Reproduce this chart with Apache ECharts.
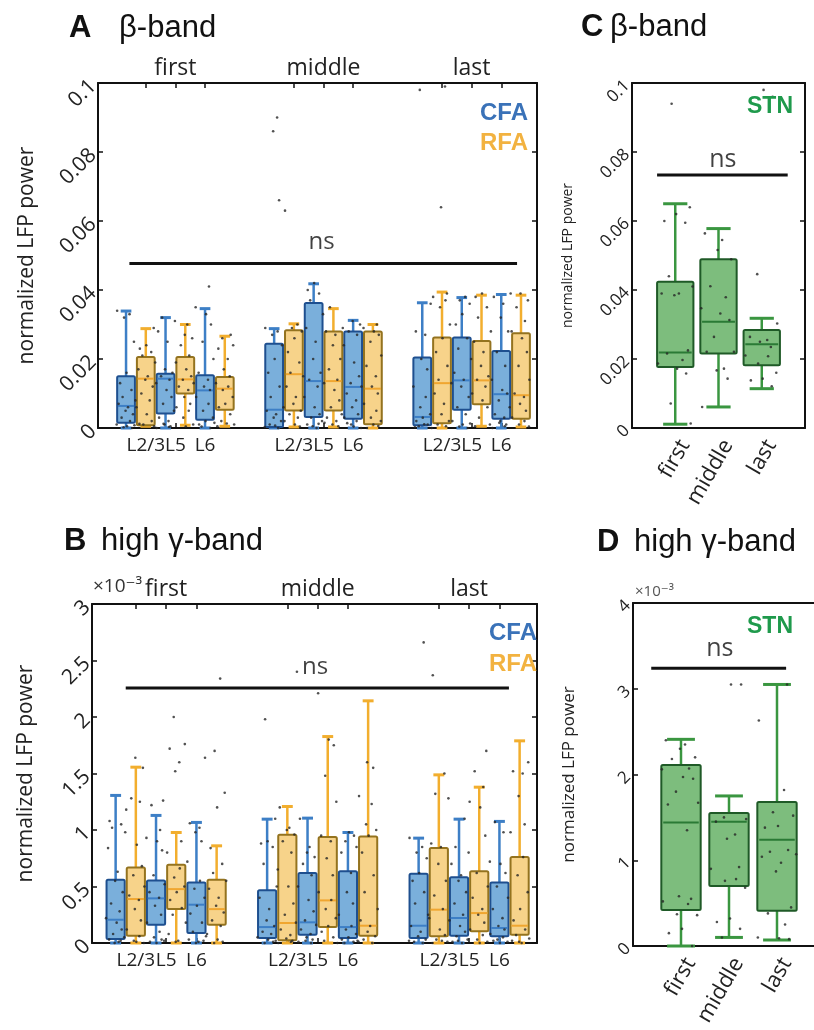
<!DOCTYPE html>
<html><head><meta charset="utf-8">
<script src="https://cdn.jsdelivr.net/npm/echarts@6/dist/echarts.min.js"></script>
<style>html,body{margin:0;padding:0;background:#fff}#c{width:814px;height:1030px}</style>
</head><body><div id="c"></div><script>
// ---------------- DATA ----------------
const GROUPS = ['first', 'middle', 'last'];
const LAYERS = ['L2/3', 'L5', 'L6'];
const EPOCHS = ['first', 'middle', 'last'];
const AREAS = ['CFA', 'RFA'];

// box stats [lowWhisker, Q1, median, Q3, highWhisker]; order: first(L2/3,L5,L6), middle(...), last(...)
const A_CFA_STATS = [
  [0, 0.0015, 0.0064, 0.0150, 0.0339],
  [0, 0.0042, 0.0143, 0.0157, 0.0320],
  [0, 0.0024, 0.0109, 0.0153, 0.0346],
  [0, 0.0003, 0.0053, 0.0244, 0.0288],
  [0, 0.0032, 0.0136, 0.0362, 0.0418],
  [0, 0.0027, 0.0119, 0.0280, 0.0312],
  [0, 0.0008, 0.0032, 0.0204, 0.0363],
  [0, 0.0053, 0.0138, 0.0262, 0.0378],
  [0, 0.0027, 0.0098, 0.0223, 0.0387]
];
const A_RFA_STATS = [
  [0.0005, 0.0008, 0.0143, 0.0206, 0.0288],
  [0.0008, 0.0100, 0.0141, 0.0206, 0.0300],
  [0.0005, 0.0053, 0.0114, 0.0148, 0.0266],
  [0.0003, 0.0051, 0.0156, 0.0283, 0.0302],
  [0.0003, 0.0051, 0.0136, 0.0280, 0.0346],
  [0, 0.0011, 0.0114, 0.0280, 0.0300],
  [0, 0.0014, 0.0130, 0.0262, 0.0394],
  [0.0005, 0.0069, 0.0138, 0.0252, 0.0385],
  [0.0003, 0.0027, 0.0095, 0.0275, 0.0385]
];
const A_CFA_PTS = [
  [0.034,0.033,0.032,0.025,0.016,0.013,0.011,0.009,0.008,0.007,0.006,0.005,0.004,0.003,0.002,0.001,0.0005,0,0.0002,0.0008],
  [0.032,0.031,0.028,0.025,0.017,0.016,0.015,0.014,0.013,0.011,0.009,0.007,0.005,0.003,0.002,0.001,0.0005,0,0.0003,0.0012],
  [0.041,0.035,0.033,0.030,0.025,0.020,0.016,0.014,0.012,0.011,0.009,0.007,0.005,0.003,0.002,0.001,0,0.0004,0.0015],
  [0.090,0.086,0.066,0.029,0.028,0.027,0.024,0.020,0.016,0.012,0.009,0.006,0.005,0.004,0.003,0.002,0.001,0,0.0003,0.0007],
  [0.042,0.040,0.039,0.037,0.033,0.029,0.025,0.020,0.016,0.014,0.012,0.009,0.006,0.004,0.003,0.002,0.001,0,0.0005,0.0012],
  [0.031,0.030,0.028,0.027,0.024,0.019,0.015,0.013,0.012,0.010,0.008,0.006,0.004,0.003,0.002,0.001,0,0.0004,0.0014],
  [0.098,0.036,0.028,0.027,0.020,0.017,0.012,0.009,0.006,0.004,0.003,0.002,0.001,0.0005,0,0.0002,0.0011],
  [0.038,0.037,0.036,0.033,0.030,0.026,0.023,0.020,0.016,0.014,0.012,0.009,0.006,0.004,0.002,0.001,0,0.0004,0.0013],
  [0.039,0.038,0.036,0.032,0.028,0.022,0.018,0.014,0.011,0.010,0.008,0.006,0.004,0.003,0.002,0.001,0,0.0005,0.0015]
];
const A_RFA_PTS = [
  [0.029,0.024,0.023,0.022,0.021,0.019,0.017,0.015,0.014,0.012,0.010,0.008,0.006,0.004,0.002,0.001,0.0005,0.0012],
  [0.030,0.027,0.026,0.024,0.021,0.019,0.017,0.015,0.014,0.013,0.012,0.011,0.009,0.007,0.006,0.005,0.003,0.001,0.0004],
  [0.027,0.026,0.024,0.023,0.020,0.017,0.015,0.013,0.012,0.011,0.009,0.007,0.006,0.004,0.002,0.001,0.0005,0.0013],
  [0.063,0.030,0.029,0.028,0.026,0.022,0.019,0.016,0.015,0.012,0.009,0.007,0.005,0.004,0.003,0.002,0.001,0.0004],
  [0.035,0.029,0.028,0.027,0.024,0.020,0.017,0.014,0.013,0.011,0.008,0.006,0.004,0.003,0.002,0.001,0.0005,0.0015],
  [0.030,0.029,0.028,0.027,0.025,0.021,0.018,0.015,0.012,0.010,0.007,0.005,0.003,0.002,0.001,0,0.0006],
  [0.099,0.064,0.039,0.038,0.037,0.035,0.030,0.026,0.022,0.018,0.014,0.013,0.010,0.007,0.004,0.002,0.001,0.0005],
  [0.039,0.038,0.035,0.032,0.028,0.025,0.022,0.018,0.015,0.014,0.012,0.010,0.008,0.006,0.003,0.001,0.0005],
  [0.039,0.037,0.035,0.031,0.028,0.026,0.022,0.018,0.014,0.010,0.009,0.007,0.005,0.003,0.002,0.001,0.0004]
];

// Panel B values in units of 1e-3
const B_CFA_STATS = [
  [0, 0.035, 0.206, 0.560, 1.306],
  [0, 0.162, 0.395, 0.554, 1.129],
  [0, 0.088, 0.339, 0.536, 1.067],
  [0, 0.044, 0.141, 0.466, 1.096],
  [0, 0.074, 0.183, 0.619, 1.105],
  [0, 0.044, 0.141, 0.634, 0.978],
  [0, 0.044, 0.153, 0.613, 0.928],
  [0, 0.065, 0.221, 0.581, 1.096],
  [0, 0.059, 0.133, 0.536, 1.076]
];
const B_RFA_STATS = [
  [0, 0.065, 0.389, 0.669, 1.556],
  [0, 0.300, 0.477, 0.693, 0.978],
  [0, 0.162, 0.300, 0.560, 0.860],
  [0, 0.024, 0.177, 0.958, 1.208],
  [0, 0.141, 0.377, 0.937, 1.827],
  [0, 0.065, 0.153, 0.943, 2.143],
  [0, 0.059, 0.295, 0.840, 1.488],
  [0, 0.103, 0.265, 0.634, 1.379],
  [0, 0.074, 0.153, 0.760, 1.789]
];
const B_CFA_PTS = [
  [1.08,1.05,1.02,0.98,0.84,0.63,0.55,0.45,0.35,0.28,0.22,0.18,0.12,0.08,0.05,0.03,0.01,0,0.02],
  [1.26,1.22,1.00,0.93,0.90,0.82,0.60,0.52,0.45,0.40,0.33,0.25,0.18,0.10,0.05,0.02,0,0.01,0.03],
  [1.64,1.06,1.02,0.98,0.90,0.72,0.55,0.48,0.40,0.33,0.26,0.18,0.10,0.06,0.03,0.01,0,0.02],
  [1.98,1.10,0.90,0.88,0.85,0.70,0.50,0.40,0.30,0.20,0.15,0.10,0.08,0.05,0.03,0.01,0,0.02],
  [1.10,0.85,0.80,0.76,0.70,0.60,0.50,0.38,0.28,0.20,0.16,0.12,0.08,0.05,0.03,0.01,0,0.02],
  [0.98,0.95,0.90,0.85,0.80,0.62,0.45,0.35,0.25,0.15,0.12,0.08,0.05,0.03,0.01,0,0.02],
  [2.66,0.93,0.85,0.80,0.75,0.62,0.55,0.45,0.35,0.25,0.15,0.10,0.06,0.03,0.01,0,0.02],
  [1.10,0.85,0.80,0.70,0.60,0.55,0.45,0.35,0.25,0.20,0.15,0.10,0.06,0.03,0.01,0,0.02],
  [1.07,0.98,0.72,0.70,0.62,0.50,0.40,0.30,0.22,0.15,0.12,0.08,0.05,0.03,0.01,0,0.02]
];
const B_RFA_PTS = [
  [1.64,1.55,1.28,1.25,1.18,0.87,0.68,0.60,0.50,0.42,0.38,0.30,0.20,0.12,0.06,0.02,0,0.01],
  [2.00,1.76,1.72,1.60,1.52,0.90,0.80,0.66,0.58,0.50,0.45,0.38,0.31,0.25,0.18,0.08,0.02,0.01],
  [2.34,1.70,1.33,1.20,0.84,0.70,0.62,0.55,0.48,0.40,0.33,0.27,0.20,0.15,0.08,0.03,0.01,0],
  [2.40,1.20,1.02,1.00,0.96,0.90,0.80,0.65,0.50,0.35,0.25,0.18,0.12,0.07,0.04,0.02,0,0.01],
  [2.21,1.80,1.75,1.48,1.25,0.95,0.90,0.75,0.60,0.45,0.38,0.30,0.22,0.15,0.10,0.05,0.02,0],
  [1.60,1.55,1.30,1.23,1.05,1.00,0.95,0.80,0.60,0.45,0.30,0.20,0.15,0.10,0.06,0.03,0,0.01],
  [2.37,1.50,1.32,1.28,0.88,0.85,0.70,0.55,0.42,0.30,0.22,0.12,0.07,0.03,0.01,0,0.02],
  [1.70,1.52,1.38,1.25,1.20,0.95,0.62,0.50,0.40,0.30,0.25,0.18,0.12,0.07,0.03,0.01,0],
  [1.60,1.52,1.50,1.30,1.05,0.98,0.76,0.60,0.45,0.30,0.20,0.12,0.07,0.04,0.02,0,0.01]
];

// Panel C (STN beta) and D (STN high gamma, units 1e-3); order: first, middle, last
const C_STATS = [
  [0.0011, 0.0177, 0.0219, 0.0424, 0.0650],
  [0.0061, 0.0216, 0.0308, 0.0489, 0.0578],
  [0.0114, 0.0182, 0.0243, 0.0284, 0.0318]
];
const C_PTS = [
  [0.094,0.064,0.062,0.060,0.0595,0.044,0.041,0.039,0.039,0.0385,0.0225,0.0216,0.0197,0.0187,0.0172,0.0158,0.0071,0.0013],
  [0.0564,0.0545,0.0516,0.0489,0.0411,0.0379,0.0347,0.0332,0.0313,0.0264,0.0221,0.0221,0.0172,0.0167,0.0143,0.0061],
  [0.098,0.096,0.0446,0.0303,0.0264,0.0255,0.025,0.0235,0.021,0.0208,0.0187,0.016,0.0143,0.0138,0.0121]
];
const D_STATS = [
  [0.00, 0.42, 1.44, 2.11, 2.41],
  [0.10, 0.70, 1.45, 1.55, 1.75],
  [0.07, 0.41, 1.24, 1.68, 3.05]
];
const D_PTS = [
  [2.40,2.35,2.30,2.20,2.18,2.07,2.06,1.97,1.95,1.80,1.67,1.65,1.35,0.58,0.55,0.52,0.49,0.37,0.36,0.20,0.15,0],
  [3.05,3.05,1.50,1.48,1.45,1.30,1.25,0.92,0.90,0.78,0.76,0.68,0.32,0.28,0.20,0.10],
  [3.05,2.63,1.82,1.56,1.52,1.40,1.38,1.12,1.10,1.07,1.04,0.97,0.87,0.45,0.38,0.25,0.10,0.09,0.08]
];

// significance bars: [xStart, xEnd, level, labelX]
const NS_A = [0.17, 19.8, 0.0477, 9.9];
const NS_B = [0.5, 19.47, 2.256, 9.87];
const NS_C = [0.58, 3.6, 0.0733, 2.1];
const NS_D = [0.38, 3.19, 3.24, 1.81];

// ---------------- LAYOUT / STYLE ----------------
const GROUP_STEP = 7.5, LAYER_STEP = 2;
const LAYER_TICKS = [1, 2.5, 4];
const GROUP_LABEL_OFFSET = 2.5;
const JITTER = [-0.9,0.35,-0.2,0.8,0.05,-0.6,0.55,-0.35,0.95,-0.75,0.2,-0.05,0.7,-0.45,0.4,-0.95,0.1,0.6,-0.25,0.85,-0.65,0.3,-0.1,0.5];
const FONT = '"Open Sans", "DejaVu Sans", sans-serif';
const ARIAL = '"Liberation Sans", Arial, sans-serif';
const COL = {
  CFA: { fill: '#7aafdb', border: '#1e4f8f', whisk: '#3d7fc6', med: '#3d7fc6', text: '#3a72b8' },
  RFA: { fill: '#f7d38a', border: '#94731f', whisk: '#f2ae2e', med: '#f0a630', text: '#f2b240' },
  STN: { fill: '#7dbd7d', border: '#1f5a27', whisk: '#3a9640', med: '#2a7a35', text: '#1f9a4c' }
};
const INK = '#111';

function slot(i, area) { return Math.floor(i / 3) * GROUP_STEP + (i % 3) * LAYER_STEP + area; }
const TICK_POS = [], TICK_TXT = [], GRP_POS = [];
GROUPS.forEach((g, gi) => {
  LAYER_TICKS.forEach((t, li) => { TICK_POS.push(gi * GROUP_STEP + t); TICK_TXT.push(LAYERS[li]); });
  GRP_POS.push(gi * GROUP_STEP + GROUP_LABEL_OFFSET);
});
function lookup(pos, txt) { return v => { const k = pos.findIndex(p => Math.abs(p - v) < 1e-6); return k < 0 ? '' : txt[k]; }; }

function makeRender(c, hw, cw) {
  return function (params, api) {
    const x = api.value(0), lo = api.value(1), q1 = api.value(2), md = api.value(3), q3 = api.value(4), hi = api.value(5);
    const P = (dx, v) => api.coord([x + dx, v]);
    const a = P(-hw, q3), b = P(hw, q1);
    const ln = (p1, p2, st) => ({ type: 'line', shape: { x1: p1[0], y1: p1[1], x2: p2[0], y2: p2[1] }, style: st });
    const ws = { stroke: c.whisk, lineWidth: 2.5 };
    return { type: 'group', children: [
      ln(P(0, hi), P(0, q3), ws),
      ln(P(0, q1), P(0, lo), ws),
      ln(P(-cw, hi), P(cw, hi), { stroke: c.whisk, lineWidth: 3 }),
      ln(P(-cw, lo), P(cw, lo), { stroke: c.whisk, lineWidth: 3 }),
      { type: 'rect', shape: { x: a[0], y: a[1], width: b[0] - a[0], height: b[1] - a[1], r: 1.5 }, style: { fill: c.fill, stroke: c.border, lineWidth: 2 } },
      ln(P(-hw + 0.04, md), P(hw - 0.04, md), { stroke: c.med, lineWidth: 2 })
    ] };
  };
}
function boxSeries(gi, stats, posFn, c, hw, cw) {
  return { type: 'custom', xAxisIndex: 2 * gi, yAxisIndex: 2 * gi, silent: true, z: 2,
    renderItem: makeRender(c, hw, cw), encode: { x: 0, y: [1, 2, 3, 4, 5] },
    data: stats.map((s, i) => [posFn(i)].concat(s)) };
}
function ptSeries(gi, pts, posFn, spread, seed) {
  const data = [];
  pts.forEach((arr, i) => arr.forEach((v, k) => data.push([posFn(i) + JITTER[(k + i * 7 + seed) % JITTER.length] * spread, v])));
  return { type: 'scatter', xAxisIndex: 2 * gi, yAxisIndex: 2 * gi, silent: true, z: 3, symbolSize: 2.6,
    itemStyle: { color: '#262626' }, data };
}
function nsSeries(gi, ns, fs, off) {
  return [
    { type: 'line', xAxisIndex: 2 * gi, yAxisIndex: 2 * gi, silent: true, z: 4, symbol: 'none',
      lineStyle: { color: INK, width: 3 }, data: [[ns[0], ns[2]], [ns[1], ns[2]]] },
    { type: 'scatter', xAxisIndex: 2 * gi, yAxisIndex: 2 * gi, silent: true, z: 4, symbolSize: 1,
      itemStyle: { color: 'rgba(0,0,0,0)' }, data: [[ns[3], ns[2]]],
      label: { show: true, formatter: 'ns', position: 'inside', offset: [0, off], color: INK, fontSize: fs, fontFamily: FONT } }
  ];
}

const axLine = { show: true, onZero: false, lineStyle: { color: INK, width: 2 } };
function yAxes(gi, max, interval, fs, nameFs, nameGap) {
  return [
    { type: 'value', gridIndex: gi, position: 'left', min: 0, max, interval, axisLine: axLine,
      axisTick: { show: true, inside: true, length: 5, lineStyle: { color: INK, width: 1.5 } },
      axisLabel: { rotate: 45, margin: 5, fontSize: fs, color: '#222', fontFamily: FONT, hideOverlap: false },
      splitLine: { show: false },
      name: 'normalized LFP power', nameLocation: 'middle', nameRotate: 90, nameGap,
      nameTextStyle: { fontSize: nameFs, color: '#222', fontFamily: FONT } },
    { type: 'value', gridIndex: gi, position: 'right', min: 0, max, interval, axisLine: axLine,
      axisTick: { show: true, inside: true, length: 5, lineStyle: { color: INK, width: 1.5 } },
      axisLabel: { show: false }, splitLine: { show: false } }
  ];
}
function xAxesAB(gi, min, max) {
  return [
    { type: 'value', gridIndex: gi, position: 'bottom', min, max, axisLine: axLine,
      axisTick: { show: true, inside: true, length: 5, customValues: TICK_POS, lineStyle: { color: INK, width: 1.5 } },
      axisLabel: { customValues: TICK_POS, formatter: lookup(TICK_POS, TICK_TXT), margin: 8, fontSize: 19, color: '#222', fontFamily: FONT,
        showMinLabel: true, showMaxLabel: true, hideOverlap: false, interval: 0 },
      splitLine: { show: false } },
    { type: 'value', gridIndex: gi, position: 'top', min, max, axisLine: axLine,
      axisTick: { show: true, inside: true, length: 5, customValues: TICK_POS, lineStyle: { color: INK, width: 1.5 } },
      axisLabel: { customValues: GRP_POS, formatter: lookup(GRP_POS, GROUPS), margin: 3, fontSize: 23, color: '#222', fontFamily: FONT,
        showMinLabel: true, showMaxLabel: true, hideOverlap: false, interval: 0 },
      splitLine: { show: false } }
  ];
}
const EPOCH_POS = [1, 2, 3];
function xAxesCD(gi) {
  return [
    { type: 'value', gridIndex: gi, position: 'bottom', min: 0, max: 4, axisLine: axLine,
      axisTick: { show: false },
      axisLabel: { customValues: EPOCH_POS, formatter: lookup(EPOCH_POS, EPOCHS), rotate: 60, margin: 8, verticalAlign: 'top', fontSize: 22, color: '#222', fontFamily: FONT,
        showMinLabel: true, showMaxLabel: true, hideOverlap: false, interval: 0 },
      splitLine: { show: false } },
    { type: 'value', gridIndex: gi, position: 'top', min: 0, max: 4, axisLine: axLine,
      axisTick: { show: false }, axisLabel: { show: false }, splitLine: { show: false } }
  ];
}

function txt(x, y, text, font, fill, align) {
  return { type: 'text', x, y, z: 10, style: { text, font, fill: fill || INK, align: align || 'left', verticalAlign: 'middle' } };
}

const posAB = a => i => slot(i, a);
const posCD = i => EPOCH_POS[i];
const OB = 'none';

const option = {
  animation: false,
  backgroundColor: '#ffffff',
  grid: [
    { left: 98, top: 83, width: 439, height: 345, outerBoundsMode: OB, containLabel: false },
    { left: 92, top: 604, width: 445, height: 339, outerBoundsMode: OB, containLabel: false },
    { left: 632, top: 83, width: 173, height: 345, outerBoundsMode: OB, containLabel: false },
    { left: 633, top: 603, width: 192, height: 343, outerBoundsMode: OB, containLabel: false }
  ],
  xAxis: [].concat(xAxesAB(0, -1.42, 20.81), xAxesAB(1, -1.17, 20.86), xAxesCD(2), xAxesCD(3)),
  yAxis: [].concat(yAxes(0, 0.1, 0.02, 21, 21, 60), yAxes(1, 3, 0.5, 21, 21, 55), yAxes(2, 0.1, 0.02, 17, 14, 57), yAxes(3, 4, 1, 17, 17, 55)),
  series: [].concat(
    boxSeries(0, A_CFA_STATS, posAB(0), COL.CFA, 0.45, 0.27),
    boxSeries(0, A_RFA_STATS, posAB(1), COL.RFA, 0.45, 0.27),
    ptSeries(0, A_CFA_PTS, posAB(0), 0.5, 0),
    ptSeries(0, A_RFA_PTS, posAB(1), 0.5, 3),
    nsSeries(0, NS_A, 24, -21),
    boxSeries(1, B_CFA_STATS, posAB(0), COL.CFA, 0.45, 0.27),
    boxSeries(1, B_RFA_STATS, posAB(1), COL.RFA, 0.45, 0.27),
    ptSeries(1, B_CFA_PTS, posAB(0), 0.5, 5),
    ptSeries(1, B_RFA_PTS, posAB(1), 0.5, 11),
    nsSeries(1, NS_B, 24, -21),
    boxSeries(2, C_STATS, posCD, COL.STN, 0.42, 0.28),
    ptSeries(2, C_PTS, posCD, 0.42, 2),
    nsSeries(2, NS_C, 25, -15),
    boxSeries(3, D_STATS, posCD, COL.STN, 0.41, 0.29),
    ptSeries(3, D_PTS, posCD, 0.42, 9),
    nsSeries(3, NS_D, 25, -19)
  ),
  graphic: [
    txt(69, 28, 'A', 'bold 31px ' + ARIAL),
    txt(119, 28, 'β-band', '31px ' + ARIAL),
    txt(64, 541, 'B', 'bold 31px ' + ARIAL),
    txt(101, 541, 'high γ-band', '31px ' + ARIAL),
    txt(581, 27, 'C', 'bold 31px ' + ARIAL),
    txt(610, 27, 'β-band', '31px ' + ARIAL),
    txt(597, 542, 'D', 'bold 31px ' + ARIAL),
    txt(634, 542, 'high γ-band', '31px ' + ARIAL),
    txt(528, 113, 'CFA', 'bold 24px ' + ARIAL, COL.CFA.text, 'right'),
    txt(528, 143, 'RFA', 'bold 24px ' + ARIAL, COL.RFA.text, 'right'),
    txt(537, 633, 'CFA', 'bold 24px ' + ARIAL, COL.CFA.text, 'right'),
    txt(537, 664, 'RFA', 'bold 24px ' + ARIAL, COL.RFA.text, 'right'),
    txt(793, 107, 'STN', 'bold 23px ' + ARIAL, COL.STN.text, 'right'),
    txt(793, 627, 'STN', 'bold 23px ' + ARIAL, COL.STN.text, 'right'),
    txt(93, 587, '×10⁻³', '19px ' + FONT, '#333'),
    txt(635, 592, '×10⁻³', '15px ' + FONT, '#555')
  ]
};
echarts.init(document.getElementById('c'), null, { renderer: 'canvas' }).setOption(option);
</script></body></html>
